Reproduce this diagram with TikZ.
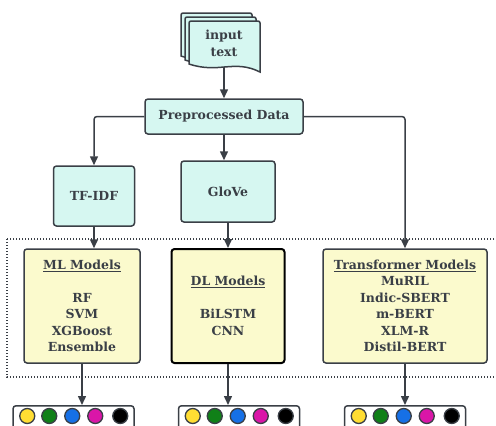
\documentclass[tikz,border=0pt]{standalone}
\usepackage{fontspec}
\setmainfont{DejaVu Serif}
\usepackage{tikz}
\usetikzlibrary{arrows.meta,calc,positioning}
\definecolor{box-cyan}{RGB}{214,247,241}
\definecolor{box-yellow}{RGB}{251,250,205}
\definecolor{line-grey}{RGB}{58,63,70}
\definecolor{dot-yellow}{RGB}{255,221,51}
\definecolor{dot-green}{RGB}{16,128,24}
\definecolor{dot-blue}{RGB}{22,112,230}
\definecolor{dot-magenta}{RGB}{218,22,168}
\tikzstyle{cyanbox}=[draw=line-grey, fill=box-cyan, rounded corners=3pt, line width=1.5pt, text=line-grey, font=\bfseries\fontsize{12.5}{16.5}\selectfont, align=center, inner sep=0pt]
\tikzstyle{yellowbox}=[cyanbox, fill=box-yellow]
\tikzstyle{outbox}=[draw=line-grey, fill=white, rounded corners=3pt, line width=1.5pt, inner sep=0pt]
\tikzstyle{colordot}=[circle, draw=line-grey, line width=1.3pt, minimum size=15pt, inner sep=0pt]
\tikzstyle{link}=[draw=line-grey, line width=1.5pt, rounded corners=3pt, -{Triangle[length=9pt,width=8pt]}]
\newcommand{\docSheet}[2]{
	\draw[line-grey, fill=box-cyan, line width=1.5pt, rounded corners=2pt] (#1,#2+43) -- (#1,#2) -- (#1+71,#2) [sharp corners] -- (#1+71,#2+51) .. controls (#1+45,#2+38) and (#1+30,#2+53) .. (#1,#2+43) -- cycle;
}
\newcommand{\outRow}[3]{
	\node[outbox, minimum width=121pt, minimum height=32pt, anchor=north] (#1) at #2 {};
	\foreach \c/\dx [count=\i] in {dot-yellow/15,dot-green/37,dot-blue/60,dot-magenta/83,black/108}
		\node[colordot, fill=\c] (#3-\i) at ($(#1.north west)+(\dx,11)$) {};
}

\begin{document}
\begin{tikzpicture}[x=1pt,y=-1pt]
	\useasboundingbox (0,0) rectangle (496,426);
	\clip (0,0) rectangle (496,426);
	\docSheet{181}{13}
	\docSheet{185}{17}
	\docSheet{189}{21}
	\node[font=\bfseries\fontsize{12.5}{17}\selectfont, text=line-grey, align=center, minimum width=71pt, minimum height=48pt, inner sep=0pt] (input) at (224,43) {input\\text};
	\node[cyanbox, minimum width=158pt, minimum height=35pt] (prep) at (224,116.5) {Preprocessed Data};
	\node[cyanbox, minimum width=81pt, minimum height=60pt] (tfidf) at (94,196) {TF-IDF};
	\node[cyanbox, minimum width=94pt, minimum height=61pt] (glove) at (228,191.5) {GloVe};
	\draw[line-grey, line width=1.1pt, dash pattern=on 1.2pt off 1.8pt] (7,239) rectangle (510,377);
	\node[yellowbox, minimum width=116pt, minimum height=114pt] (ml) at (82,306) {\underline{ML Models}\\[16.5pt]RF\\SVM\\XGBoost\\Ensemble};
	\node[yellowbox, draw=black, line width=2pt, minimum width=113pt, minimum height=114pt] (dl) at (228,306) {\underline{DL Models}\\[16.5pt]BiLSTM\\CNN};
	\node[yellowbox, minimum width=164pt, minimum height=114pt] (tr) at (405,306) {\underline{Transformer Models}\\MuRIL\\Indic-SBERT\\m-BERT\\XLM-R\\Distil-BERT};
	\outRow{outML}{(73.5,405)}{ML}
	\outRow{outDL}{(239,405)}{DL}
	\outRow{outTR}{(405,405)}{TR}
	\draw[link] (input.south) -- (prep.north);
	\draw[link] (prep.west) -| (tfidf.north);
	\draw[link] (prep.south) -- (prep.south |- glove.north);
	\draw[link] (prep.east) -| (tr.north);
	\draw[link] (tfidf.south) -- (tfidf.south |- ml.north);
	\draw[link] (glove.south) -- (glove.south |- dl.north);
	\draw[link] (ml.south) -- (ml.south |- outML.north);
	\draw[link] (dl.south) -- (dl.south |- outDL.north);
	\draw[link] (tr.south) -- (tr.south |- outTR.north);
\end{tikzpicture}
\end{document}
